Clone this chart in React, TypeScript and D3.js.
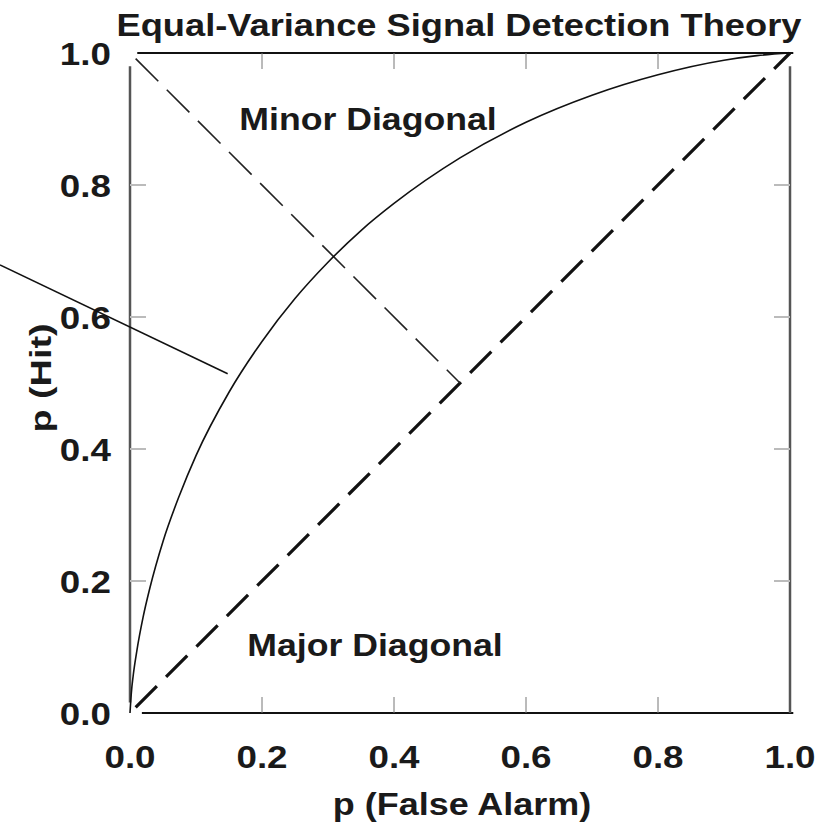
import React from "react";
import * as d3 from "d3";

const rocFalseAlarm = [0, 0.002, 0.005, 0.01, 0.02, 0.03, 0.05, 0.075, 0.1, 0.15, 0.2, 0.25, 0.3, 0.35, 0.4, 0.5, 0.6, 0.7, 0.8, 0.9, 0.95, 1];
const rocHit = [0, 0.03, 0.058, 0.092, 0.146, 0.189, 0.26, 0.33, 0.39, 0.486, 0.563, 0.628, 0.683, 0.731, 0.772, 0.841, 0.895, 0.936, 0.967, 0.989, 0.996, 1];

// Diagonals
const majorDiagonal = [[0, 0], [1, 1]];
const minorDiagonal = [[0, 1], [0.5, 0.5]];

// Pointer line running off the left edge toward the curve
const pointerLine = [[-0.197, 0.679], [0.148, 0.514]];

const tickValues = [0, 0.2, 0.4, 0.6, 0.8, 1.0];

const titleText = "Equal-Variance Signal Detection Theory";
const xLabel = "p (False Alarm)";
const yLabel = "p (Hit)";
const minorLabel = "Minor Diagonal";
const majorLabel = "Major Diagonal";

const W = 829;
const H = 824;
const FONT = "'Liberation Sans', Arial, Helvetica, sans-serif";
const TEXT = "#1a1a1a";

export default function App() {
  const x = d3.scaleLinear().domain([0, 1]).range([130, 790]);
  const y = d3.scaleLinear().domain([0, 1]).range([713, 53]);
  const fmt = d3.format(".1f");

  const rocLine = d3
    .line<number>()
    .x((d, i) => x(rocFalseAlarm[i]))
    .y((d) => y(d))
    .curve(d3.curveMonotoneX);

  const seg = d3
    .line<number[]>()
    .x((d) => x(d[0]))
    .y((d) => y(d[1]));

  const label = (
    str: string,
    px: number,
    py: number,
    size: number,
    sx: number,
    anchor: "start" | "middle" | "end",
    key?: string
  ) => (
    <text
      key={key}
      transform={`translate(${px},${py}) scale(${sx},1)`}
      textAnchor={anchor}
      fontFamily={FONT}
      fontWeight="bold"
      fontSize={size}
      fill={TEXT}
    >
      {str}
    </text>
  );

  const inner = tickValues.filter((t) => t > 0 && t < 1);

  return (
    <svg
      width={W}
      height={H}
      style={{ position: "fixed", left: 0, top: 0, background: "#fff" }}
    >
      {/* frame */}
      <line x1={x(0.011)} x2={x(1.005)} y1={y(1)} y2={y(1)} stroke="#111" strokeWidth={2.2} />
      <line x1={x(0.018)} x2={x(1.005)} y1={y(0)} y2={y(0)} stroke="#111" strokeWidth={2.2} />
      <line x1={x(0)} x2={x(0)} y1={y(0.98)} y2={y(0.016)} stroke="#555" strokeWidth={2.5} />
      <line x1={x(1)} x2={x(1)} y1={y(0.98)} y2={y(0)} stroke="#555" strokeWidth={2.5} />

      {/* ticks */}
      {inner.map((t) => (
        <g key={`t${t}`}>
          <line x1={x(t)} x2={x(t)} y1={y(1)} y2={y(1) + 16} stroke="#777" strokeWidth={1} />
          <line x1={x(t)} x2={x(t)} y1={y(0)} y2={y(0) - 16} stroke="#777" strokeWidth={1} />
          <line x1={x(0)} x2={x(0) + 16} y1={y(t)} y2={y(t)} stroke="#bbb" strokeWidth={2} />
          <line x1={x(1)} x2={x(1) - 16} y1={y(t)} y2={y(t)} stroke="#bbb" strokeWidth={2} />
        </g>
      ))}

      {/* tick labels */}
      {tickValues.map((t) => label(fmt(t), x(0) - 19, y(t) + 12, 32, 1.15, "end", `yl${t}`))}
      {tickValues.map((t) => label(fmt(t), x(t), y(0) + 55, 32, 1.15, "middle", `xl${t}`))}

      {/* diagonals */}
      <path
        d={seg(majorDiagonal) || ""}
        fill="none"
        stroke="#111"
        strokeWidth={3.2}
        strokeDasharray="30 13"
        strokeDashoffset={-8}
      />
      <path
        d={seg(minorDiagonal) || ""}
        fill="none"
        stroke="#222"
        strokeWidth={1.6}
        strokeDasharray="32 12"
        strokeDashoffset={-8}
      />

      {/* ROC curve */}
      <path d={rocLine(rocHit) || ""} fill="none" stroke="#111" strokeWidth={1.6} />

      {/* pointer */}
      <path d={seg(pointerLine) || ""} fill="none" stroke="#111" strokeWidth={1.6} />

      {/* annotations */}
      {label(minorLabel, 368, 130, 31, 1.15, "middle")}
      {label(majorLabel, 375, 656, 31, 1.15, "middle")}

      {/* title and axis titles */}
      {label(titleText, 459, 36, 31, 1.17, "middle")}
      {label(xLabel, 462, 815, 31, 1.16, "middle")}
      <text
        transform={`translate(51,378) rotate(-90) scale(1.26,1)`}
        textAnchor="middle"
        fontFamily={FONT}
        fontWeight="bold"
        fontSize={30}
        fill={TEXT}
      >
        {yLabel}
      </text>
    </svg>
  );
}
